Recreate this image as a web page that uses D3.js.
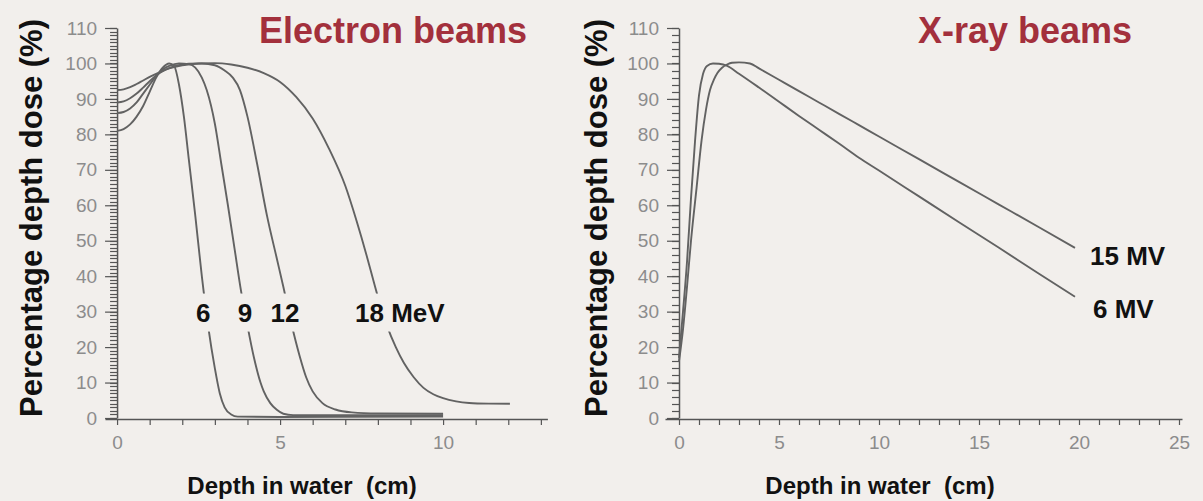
<!DOCTYPE html>
<html>
<head>
<meta charset="utf-8">
<script src="https://cdn.jsdelivr.net/npm/d3@7"></script>
<style>
  html, body { margin: 0; padding: 0; background: #f2efec; }
  svg { display: block; font-family: "Liberation Sans", Arial, sans-serif; }
</style>
</head>
<body>
<div id="chart"></div>
<script>
// depth (cm), dose (%)
const electron6 = [[0,81],[0.2,81.5],[0.4,82.8],[0.6,85],[0.8,88],[1.0,92],[1.2,96],[1.4,98.8],[1.6,100],[1.75,99.3],[1.9,94],[2.05,85],[2.2,73],[2.4,57],[2.6,40],[2.8,25.5],[3.0,14],[3.15,7],[3.3,3],[3.5,1],[3.7,0.4],[5,0.3],[10,0.4]];
const electron9 = [[0,86],[0.2,86.3],[0.4,87.3],[0.6,89],[0.8,91.5],[1.0,94],[1.2,96.5],[1.4,98.3],[1.6,99.3],[1.9,100],[2.2,99.8],[2.4,98.8],[2.6,96],[2.75,92.5],[3.0,83],[3.2,71.5],[3.4,60],[3.6,48],[3.8,36],[4.0,26],[4.2,17],[4.4,10],[4.5,7.5],[4.7,4.2],[4.9,2.3],[5.1,1.2],[5.4,0.8],[10,0.8]];
const electron12 = [[0,89],[0.2,89.3],[0.4,90.2],[0.6,91.5],[0.8,93.2],[1.0,95],[1.2,96.6],[1.5,98.3],[1.8,99.3],[2.2,99.9],[2.6,100],[3.0,99.5],[3.3,98],[3.55,96],[3.77,92.5],[4.0,85],[4.3,71.5],[4.6,57],[4.9,45],[5.1,37],[5.35,26.5],[5.6,17.5],[5.8,11.5],[6.0,7.5],[6.3,4.2],[6.7,2.4],[7.2,1.6],[8,1.3],[10,1.2]];
const electron18 = [[0,92.5],[0.2,92.7],[0.4,93.3],[0.6,94.2],[0.8,95.2],[1.0,96.2],[1.3,97.5],[1.6,98.6],[2.0,99.5],[2.5,100],[3.0,100.1],[3.5,99.7],[4.0,98.8],[4.5,97.3],[5.0,94.8],[5.5,90.5],[6.0,84.5],[6.5,76],[7.0,65.5],[7.35,55.5],[7.65,46],[7.9,37.5],[8.1,31],[8.3,25.5],[8.55,20],[8.8,15.5],[9.1,11.5],[9.4,8.5],[9.7,6.7],[10.0,5.6],[10.4,4.7],[10.8,4.25],[11.4,4.05],[12.05,4.0]];
const electronLabels = ['6', '9', '12', '18 MeV'];

const xray6 = [[0,17],[0.2,30],[0.4,44],[0.6,62],[0.8,78],[1.0,91],[1.2,97],[1.4,99.3],[1.7,100],[2.0,99.9],[2.38,99.4],[3,97.1],[4,93.2],[5,89.2],[6,85.2],[7,81.3],[8,77.4],[9,73.4],[10,69.8],[12,62.5],[14,55.2],[16,48],[18,40.7],[19.8,34.2]];
const xray15 = [[0,16],[0.2,25],[0.4,37],[0.6,50],[0.88,65],[1.13,78.4],[1.35,87],[1.55,92.5],[1.75,95.5],[1.92,97.3],[2.15,98.8],[2.4,99.7],[2.65,100.2],[3.0,100.3],[3.55,100],[4,98.6],[5,95.4],[6,92.2],[7,89],[8,85.8],[9,82.6],[10,79.4],[12,73],[14,66.6],[16,60.2],[18,53.8],[19.8,48]];
const xrayLabels = ['6 MV', '15 MV'];

const yTicks = d3.range(0, 111, 10);
const electronXTicks = [0, 5, 10];
const xrayXTicks = [0, 5, 10, 15, 20, 25];

const width = 1203;
const height = 501;
const bg = '#f2efec';
const lineColor = '#626262';
const axisColor = '#555';
const tickTextColor = '#8c8c8c';
const titleColor = '#a3303c';

const svg = d3.select('#chart')
    .append('svg')
    .attr('width', width)
    .attr('height', height);

svg.append('rect')
    .attr('width', width)
    .attr('height', height)
    .attr('fill', bg);

function renderPanel(p) {
    const g = svg.append('g');

    const x = d3.scaleLinear().domain(p.xDomain).range(p.xRange);
    const y = d3.scaleLinear().domain([0, 110]).range([418, 28]);

    // minor y ticks
    g.append('g')
        .selectAll('line')
        .data(d3.range(0, 111, p.yMinor))
        .join('line')
        .attr('x1', x(0) - 7)
        .attr('x2', x(0))
        .attr('y1', d => Math.round(y(d)) + 0.5)
        .attr('y2', d => Math.round(y(d)) + 0.5)
        .attr('stroke', axisColor)
        .attr('stroke-width', 1.2);

    // major y ticks
    g.append('g')
        .attr('transform', `translate(${x(0)},0)`)
        .call(d3.axisLeft(y).tickValues(yTicks).tickSize(12).tickSizeOuter(0).tickPadding(8))
        .call(a => a.select('.domain').attr('stroke', axisColor).attr('stroke-width', 1.5))
        .call(a => a.selectAll('line').attr('stroke', axisColor).attr('stroke-width', 1.2))
        .call(a => a.selectAll('text').attr('fill', tickTextColor).attr('font-size', 19)
            .attr('font-family', '"Liberation Sans", Arial, sans-serif'));

    // x axis
    g.append('g')
        .attr('transform', `translate(0,${y(0) + 1})`)
        .call(d3.axisBottom(x).tickValues(d3.range(0, p.xMax + 1)).tickSize(6).tickSizeOuter(0).tickPadding(11)
            .tickFormat(d => p.xTicks.includes(d) ? d : ''))
        .call(a => a.select('.domain').attr('stroke', axisColor).attr('stroke-width', 1.5))
        .call(a => a.selectAll('line').attr('stroke', axisColor).attr('stroke-width', 1.2))
        .call(a => a.selectAll('text').attr('fill', tickTextColor).attr('font-size', 19)
            .attr('font-family', '"Liberation Sans", Arial, sans-serif'));

    const line = d3.line()
        .x(d => x(d[0]))
        .y(d => y(d[1]))
        .curve(d3.curveMonotoneX);

    g.append('g')
        .selectAll('path')
        .data(p.series)
        .join('path')
        .attr('d', line)
        .attr('fill', 'none')
        .attr('stroke', lineColor)
        .attr('stroke-width', 1.9);

    // curve labels, with a background box that hides the line behind
    p.labels.forEach(l => {
        const t = g.append('text')
            .attr('x', x(l.x))
            .attr('y', y(l.y))
            .attr('text-anchor', l.anchor)
            .attr('font-size', 26)
            .attr('font-weight', 'bold')
            .attr('fill', '#111')
            .text(l.text);
        const bb = t.node().getBBox();
        g.insert('rect', () => t.node())
            .attr('x', bb.x - 4)
            .attr('y', bb.y - 4)
            .attr('width', bb.width + 8)
            .attr('height', bb.height + 8)
            .attr('fill', bg);
    });

    g.append('text')
        .attr('x', p.titleX)
        .attr('y', 43)
        .attr('text-anchor', 'middle')
        .attr('font-size', 36)
        .attr('font-weight', 'bold')
        .attr('fill', titleColor)
        .text(p.title);

    g.append('text')
        .attr('transform', `translate(${p.yTitleX},218) rotate(-90)`)
        .attr('text-anchor', 'middle')
        .attr('dy', '0.35em')
        .attr('font-size', 31)
        .attr('font-weight', 'bold')
        .attr('fill', '#111')
        .text('Percentage depth dose (%)');

    g.append('text')
        .attr('x', p.xTitleX)
        .attr('y', 494)
        .attr('text-anchor', 'middle')
        .attr('font-size', 24)
        .attr('font-weight', 'bold')
        .attr('fill', '#111')
        .style('white-space', 'pre')
        .text('Depth in water  (cm)');
}

renderPanel({
    xDomain: [-0.37, 13.2],
    xRange: [105, 547.4],
    xMax: 13,
    xTicks: electronXTicks,
    yMinor: 1,
    series: [electron6, electron9, electron12, electron18],
    labels: [
        { text: electronLabels[0], x: 2.64, y: 27.2, anchor: 'middle' },
        { text: electronLabels[1], x: 3.92, y: 27.2, anchor: 'middle' },
        { text: electronLabels[2], x: 5.15, y: 27.2, anchor: 'middle' },
        { text: electronLabels[3], x: 7.3, y: 27.2, anchor: 'start' },
    ],
    title: 'Electron beams',
    titleX: 393,
    yTitleX: 31,
    xTitleX: 302,
});

renderPanel({
    xDomain: [-0.7, 25.15],
    xRange: [665, 1182],
    xMax: 25,
    xTicks: xrayXTicks,
    yMinor: 2,
    series: [xray6, xray15],
    labels: [
        { text: xrayLabels[1], x: 20.55, y: 43.2, anchor: 'start' },
        { text: xrayLabels[0], x: 20.7, y: 28.2, anchor: 'start' },
    ],
    title: 'X-ray beams',
    titleX: 1025,
    yTitleX: 596,
    xTitleX: 880,
});
</script>
</body>
</html>
